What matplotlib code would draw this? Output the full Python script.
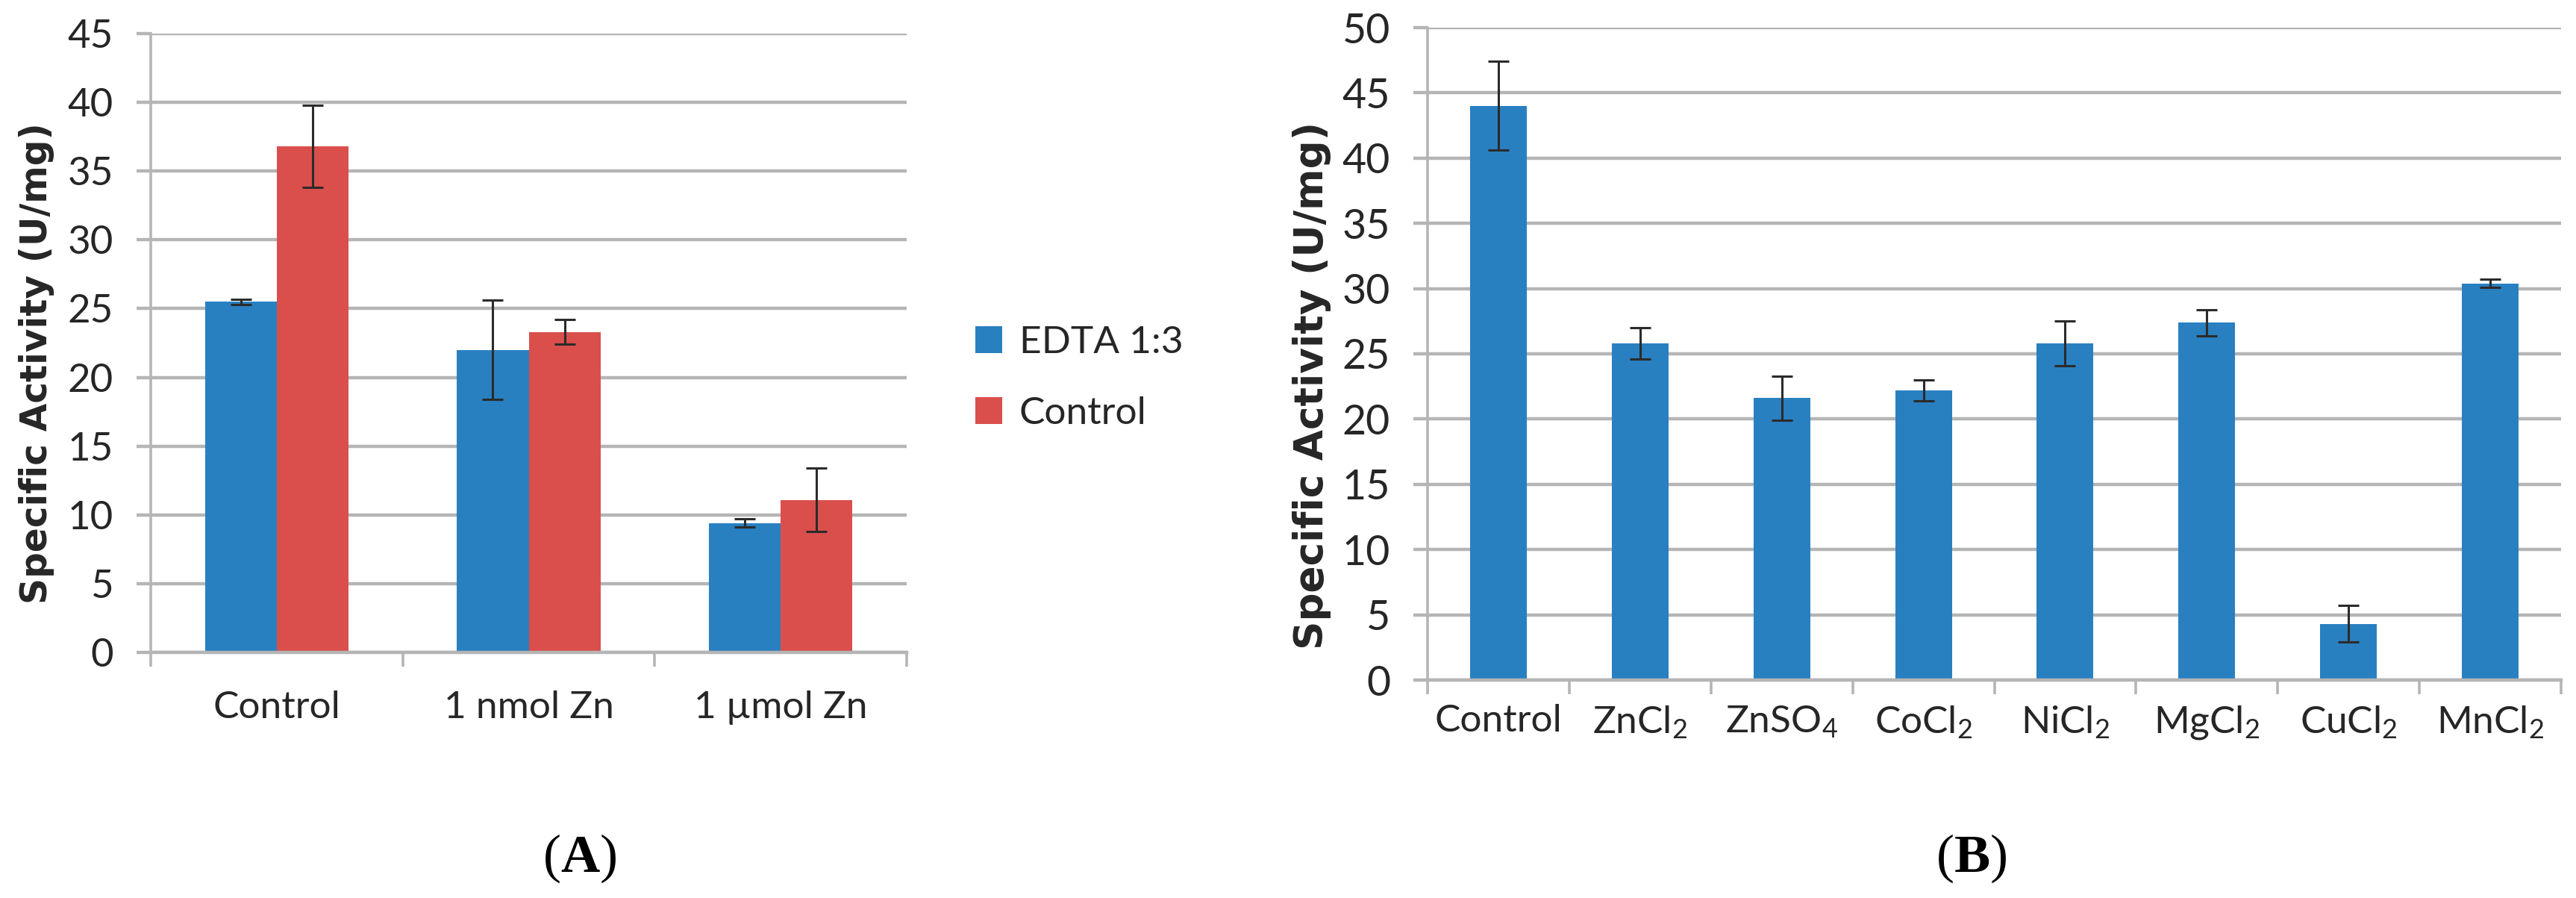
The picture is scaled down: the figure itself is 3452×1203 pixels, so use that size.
import matplotlib
matplotlib.use("Agg")
import matplotlib.pyplot as plt
import numpy as np

# ---------------- data ----------------
a_categories = ["Control", "1 nmol Zn", "1 µmol Zn"]
a_series = ["EDTA 1:3", "Control"]
a_edta = [25.5, 22.0, 9.4]
a_edta_err = [0.2, 3.6, 0.3]
a_ctrl = [36.8, 23.3, 11.1]
a_ctrl_err = [3.0, 0.9, 2.3]
a_yticks = [0, 5, 10, 15, 20, 25, 30, 35, 40, 45]

b_categories = ["Control", "ZnCl$_2$", "ZnSO$_4$", "CoCl$_2$", "NiCl$_2$",
                "MgCl$_2$", "CuCl$_2$", "MnCl$_2$"]
b_values = [44.0, 25.8, 21.6, 22.2, 25.8, 27.4, 4.3, 30.4]
b_err = [3.4, 1.2, 1.7, 0.8, 1.7, 1.0, 1.4, 0.3]
b_yticks = [0, 5, 10, 15, 20, 25, 30, 35, 40, 45, 50]

ylabel = "Specific Activity (U/mg)"

# ---------------- style ----------------
W, H, DPI = 3452, 1203, 100
BLUE = "#2980C1"
RED = "#DA4F4C"
GRID = "#B5B5B5"
TXT = "#262626"
plt.rcParams["font.family"] = ["Lato", "DejaVu Sans"]
plt.rcParams["mathtext.fontset"] = "custom"
plt.rcParams["mathtext.rm"] = "Lato"
plt.rcParams["mathtext.it"] = "Lato:italic"
plt.rcParams["mathtext.bf"] = "Lato:bold"

fig = plt.figure(figsize=(W / DPI, H / DPI), dpi=DPI)


def style_axes(ax, ncat, ymax, yticks, ticksize, xlabsize, ypad, xpad):
    ax.set_xlim(-0.5, ncat - 0.5)
    ax.set_ylim(0, ymax)
    ax.set_yticks(yticks)
    ax.yaxis.grid(True, color=GRID, linewidth=3.2, zorder=0)
    ax.set_axisbelow(True)
    for s in ["top", "right"]:
        ax.spines[s].set_visible(False)
    ax.spines["left"].set_color(GRID)
    ax.spines["left"].set_linewidth(2.6)
    ax.spines["bottom"].set_color(GRID)
    ax.spines["bottom"].set_linewidth(3.2)
    ax.tick_params(axis="y", length=14, width=3.2, color=GRID, pad=ypad,
                   labelsize=ticksize, labelcolor=TXT)
    # category boundary ticks (major) and labels at centers (minor)
    ax.set_xticks(np.arange(-0.5, ncat, 1.0))
    ax.set_xticklabels([])
    ax.tick_params(axis="x", which="major", length=14, width=2.6, color=GRID)
    ax.tick_params(axis="x", which="minor", length=0, pad=xpad,
                   labelsize=xlabsize, labelcolor=TXT)


ekw = dict(fmt="none", ecolor="#2b2b2b", elinewidth=2.2, capsize=10,
           capthick=2.2, zorder=3)

# ---------------- panel A ----------------
axA = fig.add_axes([202 / W, 1 - 874 / H, (1215 - 202) / W, (874 - 45) / H])
xa = np.arange(len(a_categories))
bw = 0.285
axA.bar(xa - bw / 2, a_edta, bw, color=BLUE, label=a_series[0], zorder=2)
axA.bar(xa + bw / 2, a_ctrl, bw, color=RED, label=a_series[1], zorder=2)
axA.errorbar(xa - bw / 2, a_edta, yerr=a_edta_err, **ekw)
axA.errorbar(xa + bw / 2, a_ctrl, yerr=a_ctrl_err, **ekw)
style_axes(axA, len(a_categories), 45, a_yticks, 38, 37, 22, 37)
axA.set_xticks(xa, minor=True)
axA.set_xticklabels(a_categories, minor=True)
axA.set_ylabel(ylabel, family="DejaVu Sans", fontweight="bold",
               fontsize=34, color=TXT)
leg = axA.legend(loc="center left", bbox_to_anchor=(1.045, 0.443),
                 frameon=False, fontsize=37, handlelength=0.7,
                 handleheight=0.7, handletextpad=0.45, labelspacing=0.95,
                 labelcolor=TXT)

# ---------------- panel B ----------------
axB = fig.add_axes([1913 / W, 1 - 911 / H, (3432 - 1913) / W, (911 - 37) / H])
xb = np.arange(len(b_categories))
axB.bar(xb, b_values, 0.40, color=BLUE, zorder=2)
axB.errorbar(xb, b_values, yerr=b_err, **ekw)
style_axes(axB, len(b_categories), 50, b_yticks, 40, 37, 22, 23)
axB.set_xticks(xb, minor=True)
axB.set_xticklabels(b_categories, minor=True)
axB.set_ylabel(ylabel, family="DejaVu Sans", fontweight="bold",
               fontsize=36, color=TXT)

# ---- fit the y-axis titles to the length and position seen in the figure ----
# (target length px, centre x px, centre y px measured from the top)
for ax, target_len, xc, yc in [(axA, 645, 49, 487), (axB, 707, 1758, 516)]:
    lab = ax.yaxis.label
    fig.canvas.draw()
    ext = lab.get_window_extent(fig.canvas.get_renderer())
    lab.set_fontsize(lab.get_fontsize() * target_len / ext.height)
    pos = ax.get_position()
    ax.yaxis.set_label_coords((xc / W - pos.x0) / pos.width,
                              ((1 - yc / H) - pos.y0) / pos.height)
    lab.set_verticalalignment("center")

# ---------------- panel letters ----------------
plt.rcParams["mathtext.bf"] = "Liberation Serif:bold"
for xc, letter in [(777, "A"), (2642, "B")]:
    fig.text(xc / W, 1 - 1150 / H, "(" + r"$\mathbf{" + letter + "}$" + ")",
             family="Liberation Serif", fontsize=52, ha="center", va="center",
             color="black")

fig.savefig("out.png", dpi=DPI, facecolor="white")
